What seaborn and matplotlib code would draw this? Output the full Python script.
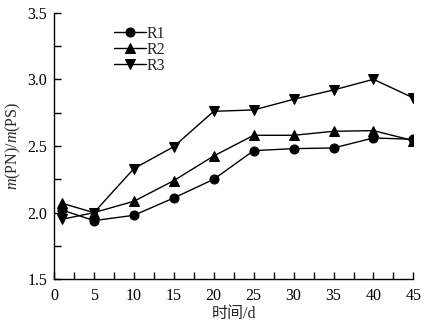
import matplotlib
matplotlib.use("Agg")
import matplotlib.pyplot as plt
from matplotlib.ticker import MultipleLocator
import seaborn as sns
import pandas as pd

days = [1, 5, 10, 15, 20, 25, 30, 35, 40, 45]
r1 = [2.02, 1.94, 1.98, 2.11, 2.25, 2.465, 2.48, 2.485, 2.56, 2.55]
r2 = [2.07, 2.00, 2.085, 2.24, 2.425, 2.58, 2.58, 2.61, 2.615, 2.54]
r3 = [1.95, 2.00, 2.33, 2.495, 2.76, 2.77, 2.85, 2.92, 3.00, 2.86]
series_names = ["R1", "R2", "R3"]

df = pd.DataFrame({
    "day": days * 3,
    "ratio": r1 + r2 + r3,
    "series": [n for n in series_names for _ in days],
})

sns.set_style("ticks")
plt.rcParams["font.family"] = ["Liberation Serif", "Noto Sans CJK SC"]
plt.rcParams["mathtext.fontset"] = "custom"
plt.rcParams["mathtext.it"] = "Liberation Serif:italic"
plt.rcParams["mathtext.rm"] = "Liberation Serif"

fig = plt.figure(figsize=(4.45, 3.24), dpi=100)
ax = fig.add_axes([0.1213, 0.138, 0.8077, 0.823])

sns.lineplot(
    data=df, x="day", y="ratio", style="series", hue="series",
    palette=["black"] * 3, markers=["o", "^", "v"], dashes=False,
    markersize=6.5, markeredgecolor="black", linewidth=1.0, ax=ax,
)

ax.set_xlim(0, 45)
ax.set_ylim(1.5, 3.5)
ax.xaxis.set_major_locator(MultipleLocator(5))
ax.xaxis.set_minor_locator(MultipleLocator(2.5))
ax.yaxis.set_major_locator(MultipleLocator(0.5))
ax.yaxis.set_minor_locator(MultipleLocator(0.25))
ax.tick_params(which="both", direction="in", length=5, width=1, color="black",
               labelsize=11.5, labelcolor="black")
ax.tick_params(axis="x", pad=6)
ax.tick_params(axis="y", pad=5)
for s in ["top", "right"]:
    ax.spines[s].set_visible(False)
for s in ["left", "bottom"]:
    ax.spines[s].set_color("black")
    ax.spines[s].set_linewidth(1.0)

ax.set_xlabel("时间/d", fontsize=11.5, labelpad=2)
ax.set_ylabel(r"$m$(PN)/$m$(PS)", fontsize=11.5, labelpad=3)

leg = ax.legend(loc="upper left", bbox_to_anchor=(0.15, 0.975), frameon=False,
                fontsize=11.5, handlelength=2.0, handletextpad=0.0,
                labelspacing=0.0, borderaxespad=0)

fig.savefig("out.png", dpi=100)
